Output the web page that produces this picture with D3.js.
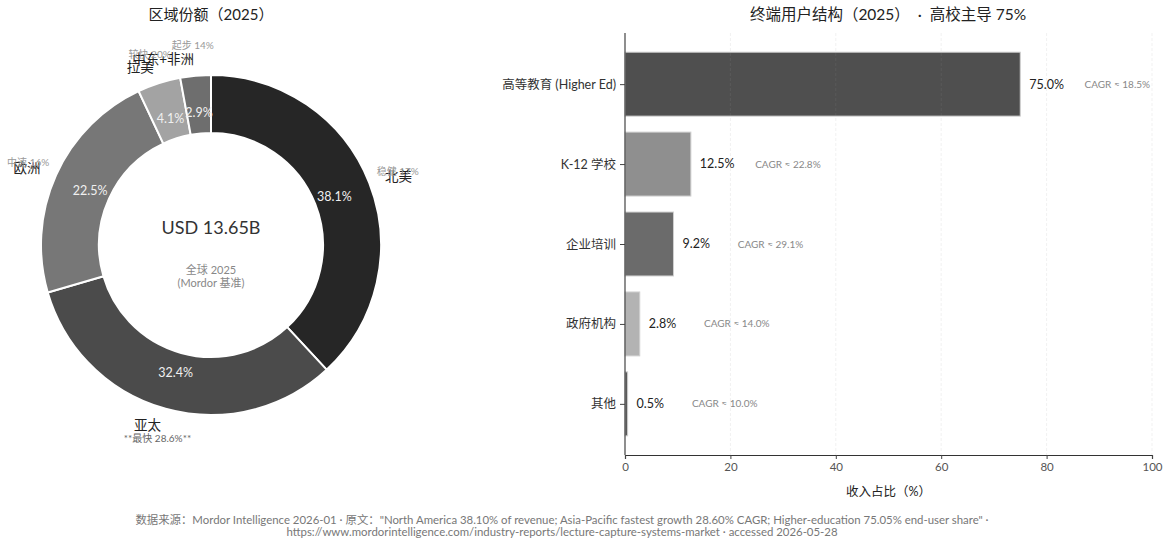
<!DOCTYPE html>
<html>
<head>
<meta charset="utf-8">
<script src="https://cdn.jsdelivr.net/npm/d3@7"></script>
<style>
  html, body { margin: 0; padding: 0; background: #fff; }
  svg { display: block; font-family: "Lato", "Noto Sans CJK SC", sans-serif; }
</style>
</head>
<body>
<svg id="chart" width="1167" height="544"></svg>
<script>
// Regional revenue share, 2025 (%)
const regions = ["北美", "亚太", "欧洲", "拉美", "中东+非洲"];
const regionShare = [38.1, 32.4, 22.5, 4.1, 2.9];
const regionNotes = ["稳健 17%", "**最快 28.6%**", "中速 16%", "较快 20%", "起步 14%"];
const regionColors = ["#262626", "#4b4b4b", "#777777", "#a3a3a3", "#6e6e6e"];

// End-user mix, 2025 (%)
const segments = ["高等教育 (Higher Ed)", "K-12 学校", "企业培训", "政府机构", "其他"];
const segmentShare = [75.0, 12.5, 9.2, 2.8, 0.5];
const segmentCagr = [18.5, 22.8, 29.1, 14.0, 10.0];
const segmentColors = ["#4f4f4f", "#8f8f8f", "#6b6b6b", "#b3b3b3", "#5a5a5a"];
const xTicks = [0, 20, 40, 60, 80, 100];

const svg = d3.select("#chart");

// ---------- Donut ----------
const cx = 211, cy = 245, rOuter = 170, rInner = 112;
const g = svg.append("g").attr("transform", `translate(${cx},${cy})`);

svg.append("text").attr("x", cx).attr("y", 20).attr("text-anchor", "middle")
  .attr("font-size", 15).attr("fill", "#222").text("区域份额（2025）");

const pie = d3.pie().sort(null).value(d => d)(regionShare);
const arc = d3.arc().innerRadius(rInner).outerRadius(rOuter);

g.selectAll("path.slice").data(pie).join("path")
  .attr("class", "slice")
  .attr("d", arc)
  .attr("fill", (d, i) => regionColors[i])
  .attr("stroke", "#fff").attr("stroke-width", 2);

const polar = (a, r) => [r * Math.sin(a), -r * Math.cos(a)];
const mid = d => (d.startAngle + d.endAngle) / 2;

// percentage inside each slice
g.selectAll("text.pct").data(pie).join("text")
  .attr("class", "pct")
  .attr("x", d => polar(mid(d), rOuter * 0.78)[0])
  .attr("y", d => polar(mid(d), rOuter * 0.78)[1])
  .attr("dy", "0.35em").attr("text-anchor", "middle")
  .attr("font-size", 12.5).attr("fill", "#f0f0f0")
  .text((d, i) => regionShare[i].toFixed(1) + "%");

// region names outside
g.selectAll("text.name").data(pie).join("text")
  .attr("class", "name")
  .attr("x", d => polar(mid(d), rOuter * 1.1)[0])
  .attr("y", d => polar(mid(d), rOuter * 1.1)[1])
  .attr("dy", "0.35em")
  .attr("text-anchor", d => Math.sin(mid(d)) >= 0 ? "start" : "end")
  .attr("font-size", 13.5).attr("fill", "#222")
  .text((d, i) => regions[i]);

// growth notes
g.selectAll("text.note").data(pie).join("text")
  .attr("class", "note")
  .attr("x", d => polar(mid(d), rOuter * 1.18)[0])
  .attr("y", d => polar(mid(d), rOuter * 1.18)[1])
  .attr("dy", "0.35em").attr("text-anchor", "middle")
  .attr("font-size", 10)
  .attr("fill", (d, i) => i === 1 ? "#666" : "#999")
  .text((d, i) => regionNotes[i]);

// centre text
g.append("text").attr("y", -17).attr("dy", "0.35em").attr("text-anchor", "middle")
  .attr("font-size", 18).attr("fill", "#333").text("USD 13.65B");
g.append("text").attr("y", 25).attr("dy", "0.35em").attr("text-anchor", "middle")
  .attr("font-size", 11).attr("fill", "#888").text("全球 2025");
g.append("text").attr("y", 38).attr("dy", "0.35em").attr("text-anchor", "middle")
  .attr("font-size", 11).attr("fill", "#888").text("(Mordor 基准)");

// ---------- Horizontal bars ----------
const plotLeft = 625, plotRight = 1152, plotTop = 33, plotBottom = 455;
const x = d3.scaleLinear().domain([0, 100]).range([plotLeft, plotRight]);
const y = d3.scaleLinear().domain([-0.64, 4.64]).range([plotTop, plotBottom]);
const barH = 0.8;

svg.append("text").attr("x", 888).attr("y", 20).attr("text-anchor", "middle")
  .attr("font-size", 15.5).attr("fill", "#222")
  .text("终端用户结构（2025）\u00a0\u00a0·\u00a0\u00a0高校主导 75%");

svg.selectAll("rect.bar").data(segmentShare).join("rect")
  .attr("class", "bar")
  .attr("x", x(0))
  .attr("y", (d, i) => y(i - barH / 2))
  .attr("width", d => x(d) - x(0))
  .attr("height", y(barH) - y(0))
  .attr("fill", (d, i) => segmentColors[i])
  .attr("stroke", "#d0d0d0").attr("stroke-width", 1);

// faint vertical grid, drawn above bars
svg.append("g").selectAll("line").data(xTicks.slice(1)).join("line")
  .attr("x1", d => x(d)).attr("x2", d => x(d))
  .attr("y1", plotTop).attr("y2", plotBottom)
  .attr("stroke", "#999").attr("stroke-opacity", 0.18)
  .attr("stroke-dasharray", "3,2").attr("stroke-width", 0.8);

svg.selectAll("text.val").data(segmentShare).join("text")
  .attr("class", "val")
  .attr("x", d => x(d + 1.7)).attr("y", (d, i) => y(i))
  .attr("dy", "0.35em").attr("font-size", 12.5).attr("fill", "#222")
  .text(d => d.toFixed(1) + "%");

svg.selectAll("text.cagr").data(segmentShare).join("text")
  .attr("class", "cagr")
  .attr("x", d => x(d + 12.2)).attr("y", (d, i) => y(i))
  .attr("dy", "0.35em").attr("font-size", 10).attr("fill", "#888")
  .text((d, i) => "CAGR ≈ " + segmentCagr[i].toFixed(1) + "%");

// axes
const yAxis = d3.axisLeft(d3.scaleOrdinal().domain(segments).range(segments.map((s, i) => y(i))))
  .tickSize(5).tickPadding(4);
const yg = svg.append("g").attr("transform", `translate(${plotLeft},0)`).call(yAxis);
yg.select(".domain").remove();
yg.selectAll(".tick line").attr("stroke", "#444");
yg.selectAll(".tick text").attr("font-size", 12.5).attr("fill", "#333")
  .attr("font-family", "Lato, 'Noto Sans CJK SC', sans-serif");
svg.append("line").attr("x1", plotLeft).attr("x2", plotLeft).attr("y1", plotTop).attr("y2", plotBottom)
  .attr("stroke", "#444").attr("stroke-width", 1.2);

const xg = svg.append("g").attr("transform", `translate(0,${plotBottom})`)
  .call(d3.axisBottom(x).tickValues(xTicks).tickSize(4).tickPadding(4));
xg.select(".domain").attr("stroke", "#333").attr("stroke-width", 1.2);
xg.selectAll(".tick line").attr("stroke", "#444");
xg.selectAll(".tick text").attr("font-size", 11.5).attr("fill", "#555")
  .attr("font-family", "Lato, 'Noto Sans CJK SC', sans-serif");

svg.append("text").attr("x", (plotLeft + plotRight) / 2).attr("y", 496).attr("text-anchor", "middle")
  .attr("font-size", 12.5).attr("fill", "#222").text("收入占比（%）");

// ---------- Source note ----------
const foot = [
  "数据来源：Mordor Intelligence 2026-01 · 原文：\"North America 38.10% of revenue; Asia-Pacific fastest growth 28.60% CAGR; Higher-education 75.05% end-user share\" ·",
  "https://www.mordorintelligence.com/industry-reports/lecture-capture-systems-market · accessed 2026-05-28"
];
svg.selectAll("text.foot").data(foot).join("text")
  .attr("class", "foot")
  .attr("x", 562).attr("y", (d, i) => 524 + i * 12)
  .attr("text-anchor", "middle").attr("font-size", 11.4).attr("fill", "#777")
  .text(d => d);
</script>
</body>
</html>
